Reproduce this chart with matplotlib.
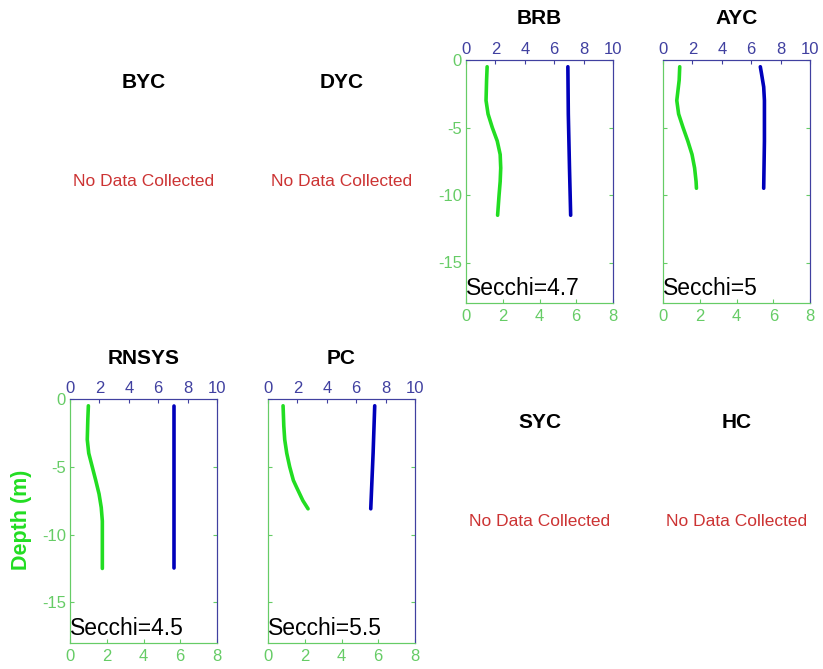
import matplotlib
matplotlib.use("Agg")
import matplotlib.pyplot as plt
import numpy as np

plt.rcParams['font.family'] = ['Liberation Sans', 'DejaVu Sans']
plt.rcParams['axes.unicode_minus'] = False

# ---- data ----
stations = ["BYC", "DYC", "BRB", "AYC", "RNSYS", "PC", "SYC", "HC"]
secchi = {"BRB": "4.7", "AYC": "5", "RNSYS": "4.5", "PC": "5.5"}

brb_green_depth = [-0.5, -1.5, -3, -4, -5, -6, -7, -8, -9, -10, -11.5]
brb_green_val = [1.15, 1.12, 1.09, 1.2, 1.43, 1.7, 1.86, 1.89, 1.86, 1.8, 1.72]
brb_blue_depth = [-0.5, -4, -8, -11.5]
brb_blue_val = [6.93, 6.96, 7.04, 7.12]

ayc_green_depth = [-0.5, -1.5, -3, -4, -5, -6, -7, -8, -9, -9.5]
ayc_green_val = [0.91, 0.88, 0.75, 0.85, 1.09, 1.35, 1.58, 1.72, 1.8, 1.82]
ayc_blue_depth = [-0.5, -1, -2, -3, -6, -9.5]
ayc_blue_val = [6.62, 6.7, 6.85, 6.9, 6.9, 6.85]

rnsys_green_depth = [-0.5, -1.5, -3, -4, -5, -6, -7, -8, -9, -10.5, -12.5]
rnsys_green_val = [1.0, 0.97, 0.94, 1.02, 1.21, 1.4, 1.58, 1.7, 1.76, 1.76, 1.76]
rnsys_blue_depth = [-0.5, -6, -12.5]
rnsys_blue_val = [7.07, 7.07, 7.07]

pc_green_depth = [-0.5, -2, -3, -4, -5, -6, -6.5, -7.5, -8.1]
pc_green_val = [0.82, 0.86, 0.91, 1.02, 1.18, 1.38, 1.55, 1.9, 2.18]
pc_blue_depth = [-0.5, -4, -8.1]
pc_blue_val = [7.26, 7.15, 6.99]

profiles = {
    "BRB": (brb_green_depth, brb_green_val, brb_blue_depth, brb_blue_val),
    "AYC": (ayc_green_depth, ayc_green_val, ayc_blue_depth, ayc_blue_val),
    "RNSYS": (rnsys_green_depth, rnsys_green_val, rnsys_blue_depth, rnsys_blue_val),
    "PC": (pc_green_depth, pc_green_val, pc_blue_depth, pc_blue_val),
}

bottom_ticks = [0, 2, 4, 6, 8]
top_ticks = [0, 2, 4, 6, 8, 10]
depth_ticks = [-15, -10, -5, 0]

# ---- style ----
W, H = 823, 669
GREEN_LINE = "#22dd22"
GREEN_AX = "#66cc66"
BLUE_LINE = "#0000bb"
BLUE_AX = "#4040a0"
RED = "#cc3333"
TICK_FS = 12

fig = plt.figure(figsize=(W / 100, H / 100), dpi=100)

col_left = [70, 268, 466, 663]
ax_w = 147
rows = [(60, 303), (399, 643)]

for i, st in enumerate(stations):
    r, c = divmod(i, 4)
    top_px, bot_px = rows[r]
    left = col_left[c] / W
    bottom = 1 - bot_px / H
    height = (bot_px - top_px) / H
    width = ax_w / W
    if st not in profiles:
        ax = fig.add_axes([left, bottom, width, height])
        ax.axis("off")
        ty = top_px + 23 + r
        ax.text(0.5, 1 - (ty - top_px) / (bot_px - top_px), st, transform=ax.transAxes,
                ha="center", va="center", fontsize=15, fontweight="bold", color="black")
        ny = top_px + 122
        ax.text(0.5, 1 - (ny - top_px) / (bot_px - top_px), "No Data Collected",
                transform=ax.transAxes, ha="center", va="center", fontsize=12.5, color=RED)
        continue

    gd, gv, bd, bv = profiles[st]
    ax = fig.add_axes([left, bottom, width, height])
    ax.plot(gv, gd, color=GREEN_LINE, lw=2.6, solid_capstyle="round")
    ax.set_xlim(0, 8)
    ax.set_ylim(-18, 0)
    ax.set_xticks(bottom_ticks)
    ax.set_yticks(depth_ticks)
    ax.tick_params(axis="x", colors=GREEN_AX, labelsize=TICK_FS, direction="in", length=3, pad=4)
    ax.tick_params(axis="y", colors=GREEN_AX, labelsize=TICK_FS, direction="in", length=3,
                   right=True, pad=3)
    if c not in (0, 2):
        ax.set_yticklabels([])
    ax.spines["left"].set_color(GREEN_AX)
    ax.spines["bottom"].set_color(GREEN_AX)
    ax.spines["right"].set_color(BLUE_AX)
    ax.spines["top"].set_color(BLUE_AX)

    ax2 = ax.twiny()
    ax2.plot(bv, bd, color=BLUE_LINE, lw=2.6, solid_capstyle="round")
    ax2.set_xlim(0, 10)
    ax2.set_xticks(top_ticks)
    ax2.tick_params(axis="x", colors=BLUE_AX, labelsize=TICK_FS, direction="in", length=3, pad=2)
    for sp in ("left", "bottom"):
        ax2.spines[sp].set_color(GREEN_AX)
    for sp in ("right", "top"):
        ax2.spines[sp].set_color(BLUE_AX)

    ax.text(0.0, 0.012, "Secchi=" + secchi[st], transform=ax.transAxes,
            ha="left", va="bottom", fontsize=16.5, color="black")
    ax.text(0.5, 1 + 41 / (bot_px - top_px), st, transform=ax.transAxes,
            ha="center", va="center", fontsize=15, fontweight="bold", color="black")

fig.text(22 / W, 1 - 520 / H, "Depth (m)", rotation=90, ha="center", va="center",
         fontsize=15.5, fontweight="bold", color=GREEN_LINE)

fig.savefig("out.png", dpi=100)
